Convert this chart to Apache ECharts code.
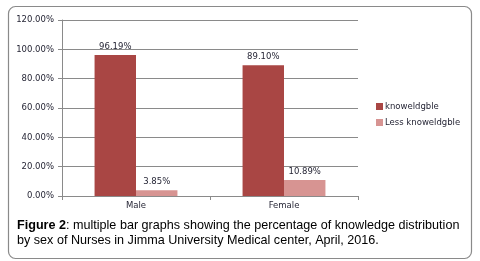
<!DOCTYPE html>
<html><head><meta charset="utf-8">
<script src="https://cdn.jsdelivr.net/npm/echarts@6/dist/echarts.min.js"></script>
<style>html,body{margin:0;padding:0;background:#fff}#c{width:480px;height:261px}</style>
</head><body><div id="c"></div>
<script>
const categories = ['Male', 'Female'];
const knowledgeable = [96.19, 89.10];
const lessKnowledgeable = [3.85, 10.89];
const seriesNames = ['knoweldgble', 'Less knoweldgble'];
const yTicks = { min: 0, max: 120, interval: 20 };

const chart = echarts.init(document.getElementById('c'), null, { renderer: 'canvas' });
const axisFont = { fontFamily: 'DejaVu Sans', fontSize: 8.5, color: '#262636' };
const labelCfg = {
  show: true, position: 'top', distance: 4,
  fontFamily: 'DejaVu Sans', fontSize: 8.5, color: '#262636',
  formatter: p => p.value.toFixed(2) + '%'
};
chart.setOption({
  animation: false,
  graphic: [{
    type: 'rect', left: 6, top: 4, shape: { width: 463, height: 252, r: 7 },
    style: { fill: 'none', stroke: '#8a8a8a', lineWidth: 1.2 }, silent: true
  }],
  title: {
    left: 17, top: 218, padding: 0,
    text: '{b|Figure 2}: multiple bar graphs showing the percentage of knowledge distribution\nby sex of Nurses in Jimma University Medical center, April, 2016.',
    textStyle: {
      fontFamily: 'Liberation Sans', fontSize: 12.6, fontWeight: 'normal', color: '#000', lineHeight: 15,
      rich: { b: { fontFamily: 'Liberation Sans', fontSize: 12.6, fontWeight: 'bold', color: '#000', lineHeight: 15 } }
    }
  },
  legend: {
    orient: 'vertical', left: 371, top: 97, itemWidth: 7, itemHeight: 7, itemGap: 7,
    icon: 'rect',
    textStyle: { fontFamily: 'DejaVu Sans', fontSize: 8.5, color: '#262636', padding: [0, 0, 0, -3] },
    data: seriesNames
  },
  grid: { left: 62, right: 122, top: 20, bottom: 65, containLabel: false },
  xAxis: {
    type: 'category', data: categories,
    axisLine: { lineStyle: { color: '#8a8a8a', width: 1 } },
    axisTick: { show: true, alignWithLabel: false, length: 4, lineStyle: { color: '#8a8a8a' } },
    axisLabel: Object.assign({ margin: 5 }, axisFont)
  },
  yAxis: {
    type: 'value', min: yTicks.min, max: yTicks.max, interval: yTicks.interval,
    axisLine: { show: true, lineStyle: { color: '#8a8a8a', width: 1 } },
    axisTick: { show: true, length: 4, lineStyle: { color: '#8a8a8a' } },
    splitLine: { lineStyle: { color: '#8a8a8a', width: 1 } },
    axisLabel: Object.assign({ margin: 8, formatter: v => v.toFixed(2) + '%' }, axisFont)
  },
  series: [
    { name: seriesNames[0], type: 'bar', data: knowledgeable, barGap: '0%', barCategoryGap: '44%',
      itemStyle: { color: '#A94644' }, label: labelCfg },
    { name: seriesNames[1], type: 'bar', data: lessKnowledgeable, barGap: '0%', barCategoryGap: '44%',
      itemStyle: { color: '#D79492' }, label: labelCfg }
  ]
});
</script></body></html>
